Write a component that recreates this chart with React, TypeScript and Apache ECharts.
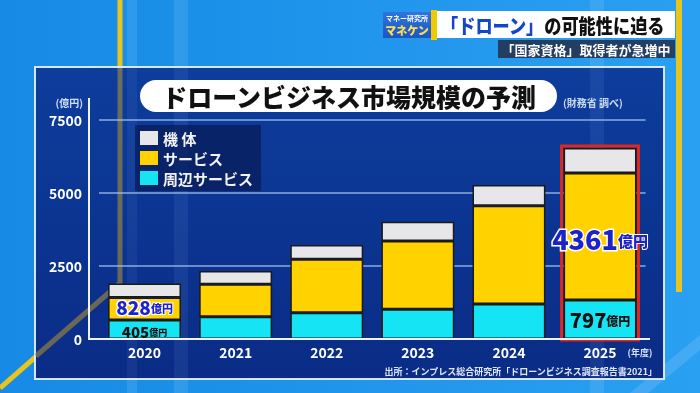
import React, { useEffect, useRef } from "react";
import * as echarts from "echarts";

const years = ["2020", "2021", "2022", "2023", "2024", "2025"];
const peripheral = [650, 764, 901, 1017, 1199, 1336];
const service = [771, 1109, 1829, 2340, 3367, 4350];
const airframe = [480, 456, 490, 661, 709, 856];
const serviceLabels = ["828", "", "", "", "", "4361"];
const peripheralLabels = ["405", "", "", "", "", "797"];
const seriesNames = ["機 体", "サービス", "周辺サービス"];
const highlightIndex = 5;
const yMax = 7500;
const yInterval = 2500;

const FONT = "'Noto Sans CJK JP', 'Noto Sans', sans-serif";

export default function App() {
  const ref = useRef<HTMLDivElement>(null);
  useEffect(() => {
    if (!ref.current) return;
    const chart = echarts.init(ref.current, null, { renderer: "svg" });

    const serviceData = service.map((v, i) => {
      if (!serviceLabels[i]) return v;
      const big = i === highlightIndex;
      return {
        value: v,
        label: {
          show: true,
          position: "inside",
          offset: [0, big ? 2 : -2],
          formatter: `{n|${serviceLabels[i]}}{u|億円}`,
          rich: {
            n: {
              color: "#1c22cc",
              fontSize: big ? 27 : 19,
              lineHeight: big ? 28 : 18,
              fontWeight: 900,
              fontFamily: FONT,
              textBorderColor: "#ffffff",
              textBorderWidth: 3,
            },
            u: {
              color: "#1c22cc",
              fontSize: big ? 15 : 11,
              lineHeight: big ? 28 : 18,
              fontWeight: 900,
              fontFamily: FONT,
              textBorderColor: "#ffffff",
              textBorderWidth: 2,
              padding: [big ? 4 : 2, 0, 0, 0],
            },
          },
        },
      };
    });

    const peripheralData = peripheral.map((v, i) => {
      if (!peripheralLabels[i]) return v;
      const big = i === highlightIndex;
      return {
        value: v,
        label: {
          show: true,
          position: "inside",
          offset: [0, big ? 0 : 2],
          formatter: `{n|${peripheralLabels[i]}}{u|億円}`,
          rich: {
            n: { color: "#111111", fontSize: big ? 20 : 15, lineHeight: big ? 22 : 15, fontWeight: 900, fontFamily: FONT },
            u: {
              color: "#111111",
              fontSize: big ? 12 : 9,
              lineHeight: big ? 22 : 15,
              fontWeight: 900,
              fontFamily: FONT,
              padding: [big ? 3 : 2, 0, 0, 0],
            },
          },
        },
      };
    });

    const total = years.map((_, i) => peripheral[i] + service[i] + airframe[i]);
    const barStyle = (color: string) => ({ color, borderColor: "#1a1a1a", borderWidth: 1.5 });

    const option: any = {
      animation: false,
      grid: { left: 99, right: 54.4, top: 120, bottom: 54 },
      legend: {
        data: seriesNames,
        orient: "vertical",
        left: 135,
        top: 125,
        backgroundColor: "rgba(8,28,90,0.75)",
        padding: [5, 8, 5, 5],
        itemWidth: 18,
        itemHeight: 14,
        itemGap: 4,
        icon: "rect",
        itemStyle: { borderWidth: 0 },
        textStyle: { color: "#f2f2f2", fontSize: 15, fontWeight: "bold", fontFamily: FONT, lineHeight: 16 },
      },
      xAxis: {
        type: "category",
        data: years,
        axisLine: { lineStyle: { color: "#eef4ff", width: 2 } },
        axisTick: { show: false },
        axisLabel: { color: "#ffffff", fontSize: 14, fontWeight: "bold", margin: 6, fontFamily: FONT },
      },
      yAxis: {
        type: "value",
        min: 0,
        max: yMax,
        interval: yInterval,
        name: "(億円)",
        nameLocation: "end",
        nameGap: 18,
        nameTextStyle: {
          color: "#d3def3",
          fontSize: 10,
          fontWeight: "bold",
          fontFamily: FONT,
          align: "right",
          verticalAlign: "middle",
          padding: [0, 16, 0, 0],
        },
        axisLine: { show: false },
        axisTick: { show: false },
        axisLabel: {
          color: "#ffffff",
          fontSize: 14,
          fontWeight: "bold",
          margin: 17,
          fontFamily: FONT,
          formatter: (v: number) => String(v),
        },
        splitLine: { lineStyle: { color: "rgba(170,200,245,0.8)", width: 1.5 } },
      },
      series: [
        {
          name: seriesNames[2],
          type: "bar",
          stack: "t",
          barWidth: "80%",
          itemStyle: barStyle("#14e4f4"),
          data: peripheralData,
        },
        {
          name: seriesNames[1],
          type: "bar",
          stack: "t",
          barWidth: "80%",
          itemStyle: barStyle("#ffd200"),
          data: serviceData,
        },
        {
          name: seriesNames[0],
          type: "bar",
          stack: "t",
          barWidth: "80%",
          itemStyle: barStyle("#e7e7ea"),
          data: airframe,
        },
        {
          type: "custom",
          z: 1,
          silent: true,
          data: [[highlightIndex, total[highlightIndex]]],
          renderItem: (params: any, api: any) => {
            const p0 = api.coord([api.value(0), 0]);
            const p1 = api.coord([api.value(0), api.value(1)]);
            const w = api.size([1, 0])[0] * 0.8 + 4;
            return {
              type: "rect",
              shape: { x: p0[0] - w / 2, y: p1[1] - 2, width: w, height: p0[1] - p1[1] + 3 },
              style: { fill: "none", stroke: "#e0281a", lineWidth: 3 },
            };
          },
        },
      ],
      graphic: [
        {
          type: "rect",
          z: -20,
          shape: { x: 0, y: 0, width: 700, height: 393 },
          style: {
            fill: new echarts.graphic.LinearGradient(0, 0, 1, 0, [
              { offset: 0, color: "#168ae5" },
              { offset: 1, color: "#2aa0f2" },
            ]),
          },
        },
        { type: "rect", z: -19, shape: { x: 127, y: 0, width: 10, height: 393 }, style: { fill: "rgba(190,235,255,0.13)" } },
        { type: "rect", z: -19, shape: { x: 174, y: 0, width: 14, height: 393 }, style: { fill: "rgba(190,235,255,0.13)" } },
        { type: "rect", z: -19, shape: { x: 590, y: 0, width: 14, height: 393 }, style: { fill: "rgba(190,235,255,0.13)" } },
        {
          type: "polygon",
          z: -19,
          shape: { points: [[630, 393], [648, 393], [700, 350], [700, 335]] },
          style: { fill: "rgba(255,255,255,0.12)" },
        },
        {
          type: "polyline",
          z: -18,
          shape: { points: [[120, 0], [120, 283], [0, 388]] },
          style: { stroke: "#e8c41c", lineWidth: 5, fill: "none" },
        },
        {
          type: "line",
          z: -18,
          shape: { x1: 679, y1: 0, x2: 679, y2: 292 },
          style: { stroke: "#e8c41c", lineWidth: 6 },
        },
        {
          type: "rect",
          z: -10,
          shape: { x: 35, y: 67, width: 629, height: 312 },
          style: {
            fill: new echarts.graphic.LinearGradient(0, 0, 0, 1, [
              { offset: 0, color: "#0d3d9d" },
              { offset: 1, color: "#0a2c86" },
            ]),
            stroke: "rgba(225,238,255,0.95)",
            lineWidth: 2,
          },
        },
        { type: "rect", z: -9, shape: { x: 127, y: 68, width: 10, height: 310 }, style: { fill: "rgba(150,200,255,0.07)" } },
        { type: "rect", z: -9, shape: { x: 174, y: 68, width: 14, height: 310 }, style: { fill: "rgba(150,200,255,0.09)" } },
        { type: "rect", z: -9, shape: { x: 590, y: 68, width: 14, height: 310 }, style: { fill: "rgba(150,200,255,0.09)" } },
        {
          type: "polyline",
          z: -9,
          shape: { points: [[120, 68], [120, 283], [36, 356]] },
          style: { stroke: "rgba(185,150,45,0.55)", lineWidth: 5, fill: "none" },
        },
        { type: "line", z: 3, shape: { x1: 89, y1: 98, x2: 89, y2: 340 }, style: { stroke: "#eef4ff", lineWidth: 2 } },
        { type: "line", z: 3, shape: { x1: 88, y1: 339, x2: 650, y2: 339 }, style: { stroke: "#eef4ff", lineWidth: 2 } },
        {
          type: "rect",
          z: 10,
          shape: { x: 140, y: 80, width: 417, height: 32, r: 16 },
          style: { fill: "#ffffff" },
        },
        {
          type: "text",
          z: 11,
          x: 349,
          y: 96,
          style: {
            text: "ドローンビジネス市場規模の予測",
            fill: "#111111",
            font: `900 25px ${FONT}`,
            align: "center",
            verticalAlign: "middle",
          },
        },
        {
          type: "text",
          z: 11,
          x: 563,
          y: 102,
          style: {
            text: "(財務省 調べ)",
            fill: "#ccd9f2",
            font: `bold 10px ${FONT}`,
            align: "left",
            verticalAlign: "middle",
          },
        },
        {
          type: "text",
          z: 11,
          x: 640,
          y: 352,
          style: {
            text: "(年度)",
            fill: "#d6e2f6",
            font: `bold 9px ${FONT}`,
            align: "center",
            verticalAlign: "middle",
          },
        },
        {
          type: "text",
          z: 11,
          x: 657,
          y: 371,
          style: {
            text: "出所：インプレス総合研究所「ドローンビジネス調査報告書2021」",
            fill: "#dfe7f8",
            font: `bold 9px ${FONT}`,
            align: "right",
            verticalAlign: "middle",
          },
        },
        {
          type: "rect",
          z: 10,
          shape: { x: 383, y: 12, width: 48, height: 26 },
          style: {
            fill: new echarts.graphic.LinearGradient(0, 0, 0, 1, [
              { offset: 0, color: "#2f74dc" },
              { offset: 1, color: "#1b56c4" },
            ]),
          },
        },
        {
          type: "text",
          z: 11,
          x: 407,
          y: 18,
          style: { text: "マネー研究所", fill: "#ffffff", font: `bold 7px ${FONT}`, align: "center", verticalAlign: "middle" },
        },
        {
          type: "text",
          z: 11,
          x: 407,
          y: 30,
          style: { text: "マネケン", fill: "#ffe14a", font: `900 11px ${FONT}`, align: "center", verticalAlign: "middle" },
        },
        { type: "rect", z: 10, shape: { x: 431, y: 10, width: 6, height: 30 }, style: { fill: "#f2c800" } },
        { type: "rect", z: 10, shape: { x: 437, y: 11, width: 238, height: 27 }, style: { fill: "#ffffff" } },
        {
          type: "text",
          z: 11,
          x: 441,
          y: 25,
          scaleX: 0.86,
          style: {
            text: "{b|「ドローン」}{k|の可能性に迫る}",
            font: `900 20px ${FONT}`,
            align: "left",
            verticalAlign: "middle",
            rich: {
              b: { fill: "#1346c8", font: `900 20px ${FONT}` },
              k: { fill: "#111111", font: `900 20px ${FONT}` },
            },
          },
        },
        { type: "rect", z: 10, shape: { x: 498, y: 40, width: 177, height: 18 }, style: { fill: "rgba(35,42,66,0.82)" } },
        {
          type: "text",
          z: 11,
          x: 586,
          y: 49,
          style: {
            text: "「国家資格」取得者が急増中",
            fill: "#ffffff",
            font: `bold 13px ${FONT}`,
            align: "center",
            verticalAlign: "middle",
          },
        },
      ],
    };

    chart.setOption(option);
    return () => chart.dispose();
  }, []);

  return <div ref={ref} style={{ position: "fixed", left: 0, top: 0, width: 700, height: 393 }} />;
}
